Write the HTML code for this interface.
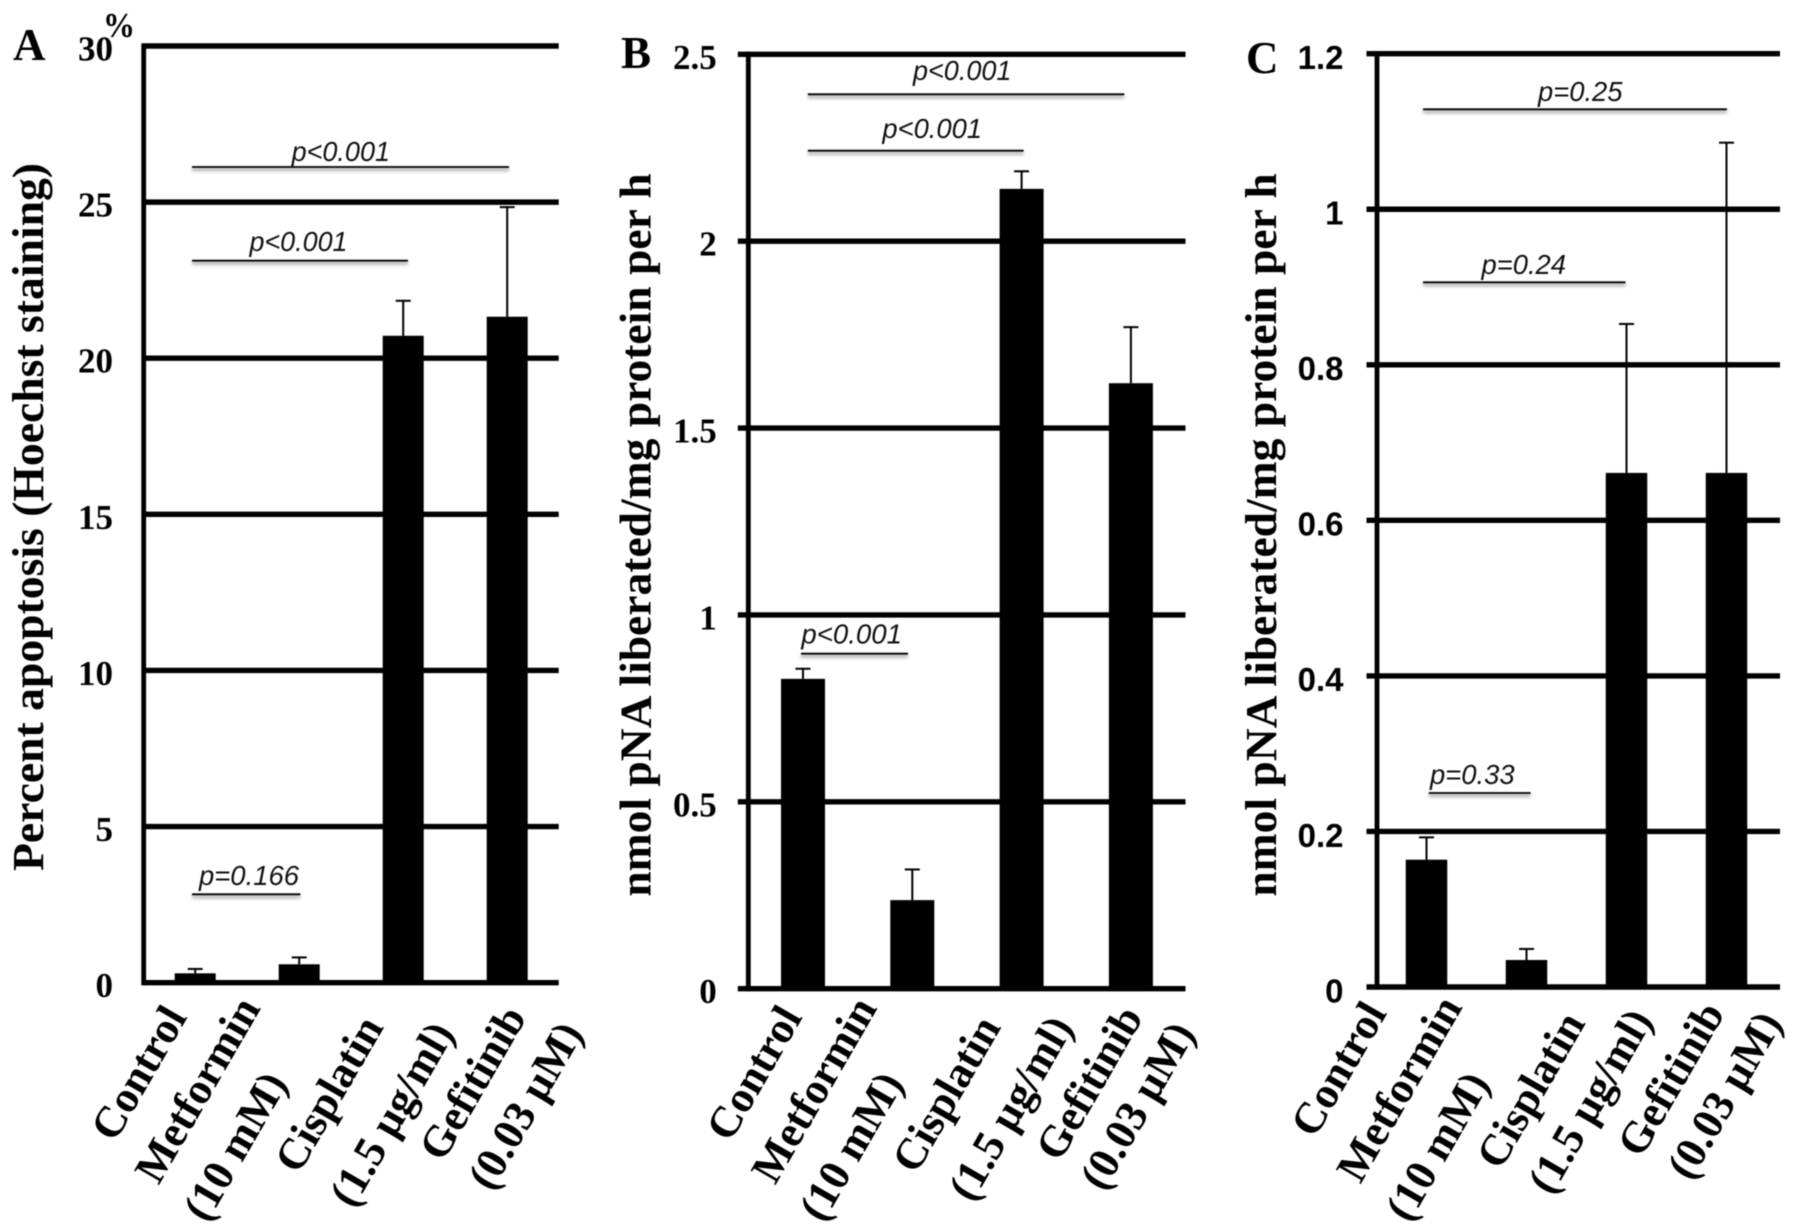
<!DOCTYPE html>
<html lang="en">
<head>
<meta charset="utf-8">
<title>Apoptosis and caspase activity bar charts</title>
<style>
html,body{margin:0;padding:0;background:#fff;width:1795px;height:1228px;overflow:hidden}
svg{display:block;filter:blur(0.4px)}
.serif{font-family:"Liberation Serif",serif;font-weight:bold;fill:#000}
.sans{font-family:"Liberation Sans",sans-serif;font-weight:bold;fill:#000}
.pval{font-family:"Liberation Sans",sans-serif;font-style:italic;font-size:28px;fill:#111}
</style>
</head>
<body>
<svg id="figure" xmlns="http://www.w3.org/2000/svg" width="1795" height="1228" viewBox="0 0 1795 1228">
  <defs>
    <filter id="soft" x="-5%" y="-300%" width="110%" height="700%"><feGaussianBlur stdDeviation="1.6"/></filter>
  </defs>
  <rect width="1795" height="1228" fill="#fff"/>
</svg>
<script>
// ---- chart data ----
const categoryLabels = [["Control"], ["Metformin", "(10 mM)"], ["Cisplatin", "(1.5 µg/ml)"], ["Gefitinib", "(0.03 µM)"]];

const panelATicks = ["0", "5", "10", "15", "20", "25", "30"];
const panelAValues = [0.30, 0.59, 20.72, 21.33];
const panelAErrorTops = [0.44, 0.81, 21.84, 24.84];

const panelBTicks = ["0", "0.5", "1", "1.5", "2", "2.5"];
const panelBValues = [0.829, 0.237, 2.14, 1.62];
const panelBErrorTops = [0.856, 0.319, 2.187, 1.77];

const panelCTicks = ["0", "0.2", "0.4", "0.6", "0.8", "1", "1.2"];
const panelCValues = [0.1637, 0.0347, 0.661, 0.661];
const panelCErrorTops = [0.1924, 0.0489, 0.8525, 1.0856];

// ---- drawing ----
const NS = "http://www.w3.org/2000/svg";
const figure = document.getElementById("figure");

function make(tag, parent) {
  const el = document.createElementNS(NS, tag);
  parent.appendChild(el);
  return el;
}
function hline(parent, x1, x2, y, w, name) {
  const el = make("line", parent);
  el.setAttribute("x1", x1); el.setAttribute("x2", x2);
  el.setAttribute("y1", y); el.setAttribute("y2", y);
  el.setAttribute("stroke", "#000"); el.setAttribute("stroke-width", w);
  
  
  return el;
}
function vline(parent, x, y1, y2, w, name) {
  const el = make("line", parent);
  el.setAttribute("x1", x); el.setAttribute("x2", x);
  el.setAttribute("y1", y1); el.setAttribute("y2", y2);
  el.setAttribute("stroke", "#000"); el.setAttribute("stroke-width", w);
  
  
  return el;
}
function label(parent, str, x, y, cls, size, anchor, name) {
  const el = make("text", parent);
  el.textContent = str;
  el.setAttribute("x", x); el.setAttribute("y", y);
  el.setAttribute("class", cls);
  if (size) el.setAttribute("font-size", size);
  el.setAttribute("text-anchor", anchor);
  
  
  return el;
}

function drawPanel(cfg) {
  const g = make("g", figure);
  
  

  const maxV = parseFloat(cfg.ticks[cfg.ticks.length - 1]);
  const yOf = v => cfg.base - (v / maxV) * (cfg.base - cfg.top);
  const xOf = i => cfg.firstCenter + i * cfg.step;

  cfg.ticks.forEach(t => {
    const y = yOf(parseFloat(t));
    hline(g, cfg.gridLeft, cfg.gridRight, y, 5.4, "gridline-" + t);
    label(g, t, cfg.tickRight, y + cfg.tickDy, cfg.tickClass, cfg.tickSize, "end", "y-tick-label-" + t);
  });
  vline(g, cfg.axisX, cfg.top - 2.5, cfg.base + 2.5, 4.8, "y-axis");

  cfg.values.forEach((v, i) => {
    const cx = xOf(i);
    const bar = make("rect", g);
    bar.setAttribute("x", cx - cfg.barW / 2);
    bar.setAttribute("width", cfg.barW);
    bar.setAttribute("y", yOf(v));
    bar.setAttribute("height", cfg.base - yOf(v));
    bar.setAttribute("fill", "#000");
    
    
    vline(g, cx, yOf(cfg.errors[i]), yOf(v), 2, "error-bar-" + categoryLabels[i][0].toLowerCase());
    hline(g, cx - 7.5, cx + 7.5, yOf(cfg.errors[i]), 2, "error-cap-" + categoryLabels[i][0].toLowerCase());

    categoryLabels[i].forEach((line, j) => {
      const off = cfg.labelOffsets[i][j];
      const ax = cx + off[0], ay = off[1];
      const t = label(g, line, ax, ay, "serif", 44, "end", "x-label-" + line.toLowerCase().replace(/[^a-z0-9]+/g, "-").replace(/^-|-$/g, ""));
      t.setAttribute("transform", "rotate(-60 " + ax + " " + ay + ")");
    });
  });

  const title = label(g, cfg.title, 0, 0, "serif", 44, "middle", "y-axis-title");
  const cy = (cfg.titleTop + cfg.titleBottom) / 2;
  title.setAttribute("transform", "translate(" + cfg.titleX + " " + cy + ") rotate(-90)");
  title.setAttribute("textLength", cfg.titleBottom - cfg.titleTop);
  title.setAttribute("lengthAdjust", "spacingAndGlyphs");

  label(g, cfg.letter, cfg.letterX, cfg.letterY, "serif", 45, "start", "panel-letter");

  cfg.notes.forEach(n => {
    const shadow = make("rect", g);
    shadow.setAttribute("x", n.x1); shadow.setAttribute("width", n.x2 - n.x1);
    shadow.setAttribute("y", n.y + 1); shadow.setAttribute("height", 3);
    shadow.setAttribute("fill", "#aaa");
    shadow.setAttribute("filter", "url(#soft)");
    
    
    hline(g, n.x1, n.x2, n.y, 1.8, "significance-line");
    const t = label(g, n.text, n.tx1, n.ty, "pval", null, "start", "p-value-label");
    t.setAttribute("textLength", n.tx2 - n.tx1);
    t.setAttribute("lengthAdjust", "spacingAndGlyphs");
  });
}

drawPanel({
  name: "panel-a", letter: "A", letterX: 13, letterY: 60,
  title: "Percent apoptosis (Hoechst staining)", titleX: 43, titleTop: 163, titleBottom: 871,
  ticks: panelATicks, values: panelAValues, errors: panelAErrorTops,
  top: 46, base: 982.7, axisX: 143.7, gridLeft: 142, gridRight: 558.7,
  firstCenter: 195.2, step: 104, barW: 41,
  tickRight: 113, tickDy: 14.5, tickClass: "serif", tickSize: 35,
  labelOffsets: [[[-7.5, 1017]], [[-38, 1008], [-11, 1083]], [[-19, 1027], [52, 1033]], [[20, 1017], [76.6, 1033]]],
  notes: [
    {text: "p<0.001", x1: 192, x2: 509, y: 167, tx1: 291.6, tx2: 390, ty: 161},
    {text: "p<0.001", x1: 192, x2: 408, y: 260.7, tx1: 249.5, tx2: 347.5, ty: 251},
    {text: "p=0.166", x1: 192, x2: 300.4, y: 894.3, tx1: 199, tx2: 299, ty: 885}
  ]
});
drawPanel({
  name: "panel-b", letter: "B", letterX: 621, letterY: 68,
  title: "nmol pNA liberated/mg protein per h", titleX: 650.5, titleTop: 173.3, titleBottom: 896.7,
  ticks: panelBTicks, values: panelBValues, errors: panelBErrorTops,
  top: 54.3, base: 988.7, axisX: 748.3, gridLeft: 737.8, gridRight: 1185.5,
  firstCenter: 803, step: 109.3, barW: 44,
  tickRight: 716.7, tickDy: 14.5, tickClass: "serif", tickSize: 35,
  labelOffsets: [[[0, 1017]], [[-34.5, 1008], [-8, 1083]], [[-20, 1027], [52.5, 1027]], [[13, 1017], [65, 1033]]],
  notes: [
    {text: "p<0.001", x1: 807.8, x2: 1124.3, y: 94.3, tx1: 913, tx2: 1011.4, ty: 80},
    {text: "p<0.001", x1: 807.8, x2: 1023.6, y: 150.7, tx1: 882.4, tx2: 982, ty: 138},
    {text: "p<0.001", x1: 801, x2: 908, y: 653.7, tx1: 801.4, tx2: 902, ty: 643.5}
  ]
});
drawPanel({
  name: "panel-c", letter: "C", letterX: 1246, letterY: 73,
  title: "nmol pNA liberated/mg protein per h", titleX: 1276, titleTop: 173.3, titleBottom: 896.7,
  ticks: panelCTicks, values: panelCValues, errors: panelCErrorTops,
  top: 53.7, base: 987, axisX: 1377, gridLeft: 1366.5, gridRight: 1780,
  firstCenter: 1426.5, step: 100, barW: 41.5,
  tickRight: 1343.5, tickDy: 15.3, tickClass: "sans", tickSize: 33,
  labelOffsets: [[[-39, 1013]], [[-63.5, 1007], [-36, 1083]], [[-40.5, 1023], [27, 1020]], [[-1, 1013], [56.5, 1022.5]]],
  notes: [
    {text: "p=0.25", x1: 1423, x2: 1727, y: 109.3, tx1: 1538, tx2: 1622.5, ty: 101},
    {text: "p=0.24", x1: 1423, x2: 1625.5, y: 282.3, tx1: 1481.5, tx2: 1566, ty: 274},
    {text: "p=0.33", x1: 1428.7, x2: 1530.6, y: 793, tx1: 1430, tx2: 1514.6, ty: 784}
  ]
});

const pct = label(figure, "%", 103, 37, "serif", 35, "start", "percent-unit-label");
pct.setAttribute("textLength", 32);
pct.setAttribute("lengthAdjust", "spacingAndGlyphs");
</script>
</body>
</html>
